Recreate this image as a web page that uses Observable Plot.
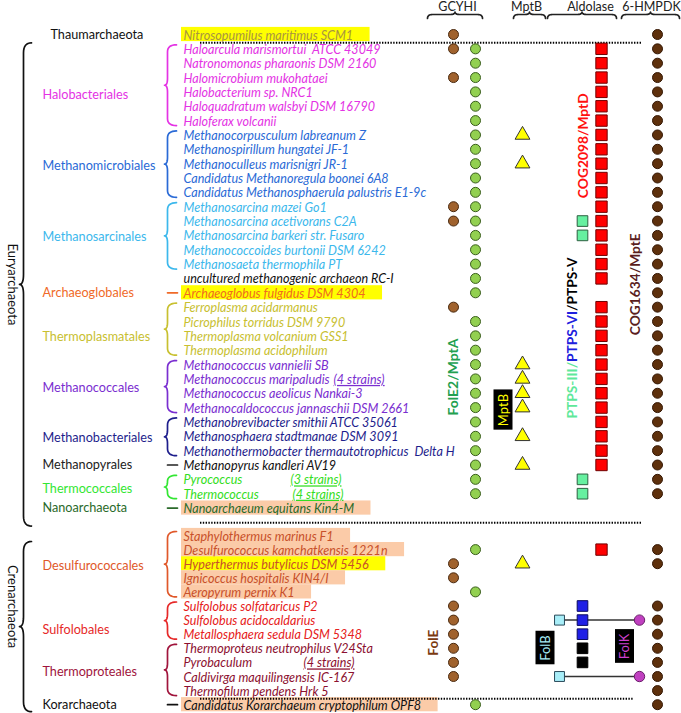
<!DOCTYPE html>
<html><head><meta charset="utf-8">
<script src="https://cdn.jsdelivr.net/npm/d3@7"></script>
<script src="https://cdn.jsdelivr.net/npm/@observablehq/plot@0.6"></script>
<style>body{margin:0;background:#fff}#chart{width:681px;height:713px}</style>
</head><body><div id="chart"></div>
<script>
// ---------------- DATA ----------------
const orders = ["Thaumarchaeota","Halobacteriales","Methanomicrobiales","Methanosarcinales","Archaeoglobales","Thermoplasmatales","Methanococcales","Methanobacteriales","Methanopyrales","Thermococcales","Nanoarchaeota","Desulfurococcales","Sulfolobales","Thermoproteales","Korarchaeota"];
const orderLabelColors = ["#111111","#e433e4","#2a6ad6","#3cb8ec","#f06a28","#c8c030","#7a2ed0","#1e1e8c","#222222","#33e633","#2a6a2a","#e0582a","#e62828","#a0143c","#111111"];
const orderSpeciesColors = ["#a89440","#e433e4","#2a6ad6","#3cb8ec","#f06a20","#c8c030","#7a2ed0","#1e1e8c","#111111","#33dd22","#2a6a2a","#c8502a","#e62020","#8c1030","#111111"];
const species = [
 "Nitrosopumilus maritimus SCM1",
 "Haloarcula marismortui  ATCC 43049","Natronomonas pharaonis DSM 2160","Halomicrobium mukohataei","Halobacterium sp. NRC1","Haloquadratum walsbyi DSM 16790","Haloferax volcanii",
 "Methanocorpusculum labreanum Z","Methanospirillum hungatei JF-1","Methanoculleus marisnigri JR-1","Candidatus Methanoregula boonei 6A8","Candidatus Methanosphaerula palustris E1-9c",
 "Methanosarcina mazei Go1","Methanosarcina acetivorans C2A","Methanosarcina barkeri str. Fusaro","Methanococcoides burtonii DSM 6242","Methanosaeta thermophila PT",
 "uncultured methanogenic archaeon RC-I",
 "Archaeoglobus fulgidus DSM 4304",
 "Ferroplasma acidarmanus","Picrophilus torridus DSM 9790","Thermoplasma volcanium GSS1","Thermoplasma acidophilum",
 "Methanococcus vannielii SB","Methanococcus maripaludis","Methanococcus aeolicus Nankai-3","Methanocaldococcus jannaschii DSM 2661",
 "Methanobrevibacter smithii ATCC 35061","Methanosphaera stadtmanae DSM 3091","Methanothermobacter thermautotrophicus  Delta H",
 "Methanopyrus kandleri AV19",
 "Pyrococcus","Thermococcus",
 "Nanoarchaeum equitans Kin4-M",
 "Staphylothermus marinus F1","Desulfurococcus kamchatkensis 1221n","Hyperthermus butylicus DSM 5456","Ignicoccus hospitalis KIN4/I","Aeropyrum pernix K1",
 "Sulfolobus solfataricus P2","Sulfolobus acidocaldarius","Metallosphaera sedula DSM 5348",
 "Thermoproteus neutrophilus V24Sta","Pyrobaculum","Caldivirga maquilingensis IC-167","Thermofilum pendens Hrk 5",
 "Candidatus Korarchaeum cryptophilum OPF8"
];
// order index of each species (-1 = unassigned, black)
const speciesOrder = [0,1,1,1,1,1,1,2,2,2,2,2,3,3,3,3,3,-1,4,5,5,5,5,6,6,6,6,7,7,7,8,9,9,10,11,11,11,11,11,12,12,12,13,13,13,13,14];
const strainNotes = [
 {species:"Methanococcus maripaludis", note:"(4 strains)"},
 {species:"Pyrococcus", note:"(3 strains)"},
 {species:"Thermococcus", note:"(4 strains)"},
 {species:"Pyrobaculum", note:"(4 strains)"}
];
const yellowHighlight = ["Nitrosopumilus maritimus SCM1","Archaeoglobus fulgidus DSM 4304","Hyperthermus butylicus DSM 5456"];
const peachHighlight = ["Nanoarchaeum equitans Kin4-M","Staphylothermus marinus F1","Desulfurococcus kamchatkensis 1221n","Ignicoccus hospitalis KIN4/I","Aeropyrum pernix K1","Candidatus Korarchaeum cryptophilum OPF8"];
const phyla = [{name:"Euryarchaeota", first:1, last:33}, {name:"Crenarchaeota", first:34, last:46}];
const headers = ["GCYHI","MptB","Aldolase","6-HMPDK"];
// gene presence: species row indices
const geneFolE  = [0,1,3,12,13,19,36,37,39,40,41,42,43,44];
const geneFolE2 = [1,2,3,4,5,6,7,8,9,10,11,12,13,14,15,16,17,18,20,21,22,23,24,25,26,27,28,29,30,31,32,35,38,46];
const geneMptB  = [7,9,23,24,25,26,28,30,36];
const genePTPS3 = [13,14,31,32];
const geneMptD  = [1,2,3,4,5,6,7,8,9,10,11,12,13,14,15,16,17,19,20,21,22,23,24,25,26,27,28,29,30,35];
const genePTPS6 = [39,40,41];
const genePTPS5 = [42,43];
const geneFolB  = [40,44];
const geneFolK  = [40,44];
const geneMptE  = [0,1,2,3,4,5,6,7,8,9,10,11,12,13,14,15,16,17,18,19,20,21,22,23,24,25,26,27,28,29,30,31,32,35,36,39,40,41,42,43,44,45,46];
const separators = [[0,1],[33,34],[45,46]];

// ---------------- LAYOUT ----------------
const W = 681, H = 713;
const rowY = i => i < 34 ? 34 + i*14.35 : 535 + (i-34)*14.1;
const FONT = "Lato, 'Open Sans', sans-serif";
const spX = 183, ordX = 42;
const noteX = {"Pyrococcus":290, "Thermococcus":292, "Pyrobaculum":303};
const ctx = document.createElement("canvas").getContext("2d");
const measure = (t, f) => { ctx.font = f; return ctx.measureText(t).width; };
// font size that gives a text a target length
const fit = (t, len, style) => 10 * len / measure(t, style + " 10px Lato");
const spSize = fit("Candidatus Methanosphaerula palustris E1-9c", 243, "italic");
const spFont = `italic ${spSize}px Lato`;
const ordSize = fit("Methanomicrobiales", 113, "");

const geneStyles = [
 {rows:geneFolE,  x:453, symbol:"circle", r:5,   fill:"#a0622d", stroke:"#4a2a10"},
 {rows:geneFolE2, x:475, symbol:"circle", r:5,   fill:"#92d050", stroke:"#3b5e1e"},
 {rows:geneMptB,  x:522, symbol:"triangle", r:5.5, fill:"#ffff00", stroke:"#333333"},
 {rows:genePTPS3, x:582, symbol:"square", r:6,   fill:"#66f0a0", stroke:"#2d6040"},
 {rows:geneMptD,  x:601, symbol:"square", r:6.4, fill:"#ff0000", stroke:"#700000"},
 {rows:genePTPS6, x:582, symbol:"square", r:6,   fill:"#2020e6", stroke:"#0a0a60"},
 {rows:genePTPS5, x:582, symbol:"square", r:6,   fill:"#000000", stroke:"#000000"},
 {rows:geneFolB,  x:559, symbol:"square", r:5.6, fill:"#a8eef8", stroke:"#2a4a5a"},
 {rows:geneFolK,  x:639, symbol:"circle", r:5.2, fill:"#c040c0", stroke:"#6a206a"},
 {rows:geneMptE,  x:657, symbol:"circle", r:5,   fill:"#5e300c", stroke:"#351805"}
];
const headerPos = {"GCYHI":[457,427,482], "MptB":[526,513,545], "Aldolase":[590,547,616], "6-HMPDK":[651,621,679]};

// ---------------- DERIVED ----------------
const spRows = species.map((name,i) => ({name, i, y: rowY(i),
  color: speciesOrder[i] < 0 ? "#111111" : orderSpeciesColors[speciesOrder[i]]}));

const highlights = [...yellowHighlight.map(n => ({n, fill:"#ffff00"})), ...peachHighlight.map(n => ({n, fill:"#fbcba8"}))]
  .map(h => { const i = species.indexOf(h.n); return {fill:h.fill, x1:181, x2: Math.min(spX + measure(h.n, spFont) + 17, 445), y1: rowY(i)-7.1, y2: rowY(i)+7.1}; });

const notes = strainNotes.map(s => { const i = species.indexOf(s.species);
  const x = noteX[s.species] ?? (spX + measure(s.species, spFont) + 4);
  return {note:s.note, x, y: rowY(i), color: spRows[i].color}; });

const groups = orders.map((o,k) => { const idx = speciesOrder.map((v,i)=>v===k?i:-1).filter(i=>i>=0);
  return {name:o, k, first: idx[0], last: idx[idx.length-1], n: idx.length}; });

function qpts(p0, c, p1, n=8){ const a=[]; for(let t=0;t<=n;t++){const u=t/n; a.push([(1-u)*(1-u)*p0[0]+2*(1-u)*u*c[0]+u*u*p1[0], (1-u)*(1-u)*p0[1]+2*(1-u)*u*c[1]+u*u*p1[1]]);} return a; }
function vbrace(x, y0, y1, w, tip, r){
  const ym = (y0+y1)/2; r = Math.min(r, (y1-y0)/4);
  return [...qpts([x+w,y0],[x,y0],[x,y0+r]), ...qpts([x,ym-r],[x,ym],[x-tip,ym]), ...qpts([x-tip,ym],[x,ym],[x,ym+r]), ...qpts([x,y1-r],[x,y1],[x+w,y1])];
}
function hbrace(x0, x1, y, h, tip, r){
  const xm = (x0+x1)/2;
  return [...qpts([x0,y+h],[x0,y],[x0+r,y]), ...qpts([xm-r,y],[xm,y],[xm,y-tip]), ...qpts([xm,y-tip],[xm,y],[xm+r,y]), ...qpts([x1-r,y],[x1,y],[x1,y+h])];
}
const bracePts = [];
groups.forEach(g => { if (g.k === 0) return;
  const col = orderLabelColors[g.k];
  if (g.n === 1) { bracePts.push({id:"o"+g.k, x:167, y:rowY(g.first), c:col}, {id:"o"+g.k, x:177, y:rowY(g.first), c:col}); }
  else vbrace(167, rowY(g.first)-4, rowY(g.last)+5, 9, 3, 7).forEach(([x,y]) => bracePts.push({id:"o"+g.k, x, y, c:col}));
});
const phylumSpan = {Euryarchaeota:[-6, 18], Crenarchaeota:[6, 7]};
const phylumLabelDy = {Euryarchaeota:0, Crenarchaeota:-20};
const phylumLabels = phyla.map(p => { const y0 = rowY(p.first)+phylumSpan[p.name][0], y1 = rowY(p.last)+phylumSpan[p.name][1];
  vbrace(23, y0, y1, 8, 4, 10).forEach(([x,y]) => bracePts.push({id:p.name, x, y, c:"#111"}));
  return {name:p.name, y:(y0+y1)/2 + phylumLabelDy[p.name]}; });
headers.forEach(h => { const [, a, b] = headerPos[h]; hbrace(a, b, 14, 4, 2.5, 5).forEach(([x,y]) => bracePts.push({id:"h"+h, x, y, c:"#222"})); });

const orderLabelDy = {Halobacteriales: 8, Thermoplasmatales: 6, Sulfolobales: 8};
const orderLabels = groups.map(g => ({name:g.name, color:orderLabelColors[g.k], x: g.k===0 ? 50 : ordX,
  y: (rowY(g.first)+rowY(g.last))/2 + (g.n>1 ? 2 : 0) + (orderLabelDy[g.name] || 0)}));

// rotated annotation labels: centre row and target text length
const vlabels = [
 {text:"FolE2/MptA", x:453, row:23.87, len:77, color:"#22a050"},
 {text:"COG2098/MptD", x:583, row:7.75, len:105, color:"#ff1010"},
 {text:"COG1634/MptE", x:635, row:17.4, len:102, color:"#5a1e1e"},
 {text:"PTPS-III/PTPS-VI/PTPS-V", x:572, row:21.15, len:161, color:"#000"},
 {text:"FolE", x:433, row:41.6, len:26, color:"#7a3a10"}
].map(d => ({...d, y: rowY(d.row), size: fit(d.text, d.len, "bold")}));
const boxLabels = [
 {text:"MptB", x:503, row:26.17, color:"#ffff00"},
 {text:"FolB", x:545, row:41.98, color:"#a8eef8"},
 {text:"FolK", x:624.5, row:41.87, color:"#d040d0"}
].map(b => { const y = rowY(b.row), w = measure(b.text, "13px Lato"); return {...b, y, x1:b.x-9.5, x2:b.x+9.5, y1:y-w/2-4, y2:y+w/2+4}; });

const dotMarks = geneStyles.map(g => Plot.dot(g.rows, {x: g.x, y: i => rowY(i), symbol: g.symbol, r: g.r, fill: g.fill, stroke: g.stroke, strokeWidth: 1}));

const chart = Plot.plot({
  width: W, height: H, margin: 0,
  x: {domain:[0,W], range:[0,W], axis:null},
  y: {domain:[0,H], range:[0,H], axis:null},
  color: {type:"identity"},
  style: {background:"#fff", fontFamily: FONT},
  marks: [
    Plot.rect(highlights, {x1:"x1", x2:"x2", y1:"y1", y2:"y2", fill:"fill"}),
    Plot.ruleY(separators, {y: d => (rowY(d[0])+rowY(d[1]))/2 + 1, x1: 200, x2: (d => d[0]===45 ? 633 : 642), stroke:"#000", strokeWidth:2, strokeDasharray:"1.4,1.4"}),
    Plot.line(bracePts, {x:"x", y:"y", z:"id", stroke:"c", strokeWidth:1.7, curve:"linear"}),
    Plot.text(spRows, {x: spX, y: "y", text: "name", fill: "color", textAnchor:"start", fontStyle:"italic", fontSize:spSize, fontFamily:FONT, dy:1}),
    Plot.text(notes, {x:"x", y:"y", text:"note", fill:"color", textAnchor:"start", fontStyle:"italic", fontSize:spSize, fontFamily:FONT, dy:1}),
    Plot.text(orderLabels, {x:"x", y:"y", text:"name", fill:"color", textAnchor:"start", fontSize:ordSize, fontFamily:FONT}),
    Plot.text(phylumLabels, {x:12, y:"y", text:"name", fill:"#111", rotate:90, fontSize:13, fontFamily:FONT}),
    Plot.text(headers, {x: h => headerPos[h][0], y: 6, text: d => d, fill:"#222", fontSize:12.5, fontFamily:FONT}),
    Plot.link(geneFolB, {x1:559, x2:639, y1: i => rowY(i), y2: i => rowY(i), stroke:"#333", strokeWidth:1.5}),
    ...dotMarks,
    Plot.rect(boxLabels, {x1:"x1", x2:"x2", y1:"y1", y2:"y2", fill:"#000"}),
    Plot.text(boxLabels, {x:"x", y:"y", text:"text", fill:"color", rotate:-90, fontSize:13, fontFamily:FONT}),
    ...vlabels.map(v => Plot.text([v], {x:"x", y:"y", text:"text", fill:"color", rotate:-90, fontSize:v.size, fontWeight:"bold", fontFamily:FONT}))
  ]
});
document.getElementById("chart").appendChild(chart);

// multi-coloured PTPS label and underlined strain notes
d3.select(chart).selectAll("text").each(function(){
  const t = this.textContent;
  if (t === "PTPS-III/PTPS-VI/PTPS-V") {
    const s = d3.select(this); s.text(null);
    s.append("tspan").attr("fill","#5ee89a").text("PTPS-III/");
    s.append("tspan").attr("fill","#2020dd").text("PTPS-VI");
    s.append("tspan").attr("fill","#000").text("/PTPS-V");
  }
  if (/^\(\d strains\)$/.test(t)) d3.select(this).style("text-decoration","underline");
});
</script></body></html>
